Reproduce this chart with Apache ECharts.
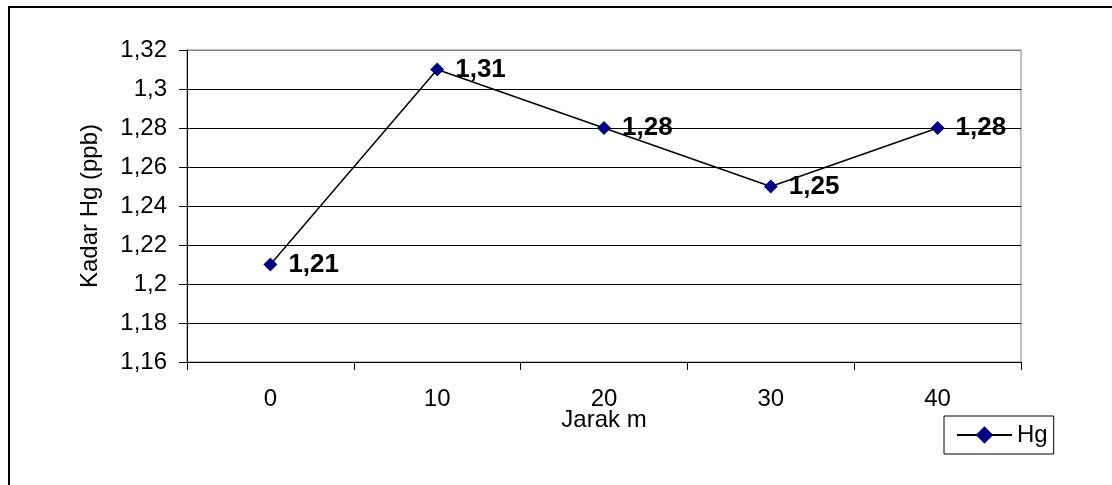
<!DOCTYPE html>
<html>
<head>
<meta charset="utf-8">
<script src="https://cdn.jsdelivr.net/npm/echarts@6/dist/echarts.min.js"></script>
<style>
html,body{margin:0;padding:0;background:#fff;}
#c{width:1112px;height:485px;}
</style>
</head>
<body>
<div id="c"></div>
<script>
const categories = ['0', '10', '20', '30', '40'];
const hgValues = [1.21, 1.31, 1.28, 1.25, 1.28];
const seriesName = 'Hg';
const yName = 'Kadar Hg (ppb)';
const xName = 'Jarak m';

const fmt = v => String(Math.round(v * 100) / 100).replace('.', ',');
const FONT = 'Liberation Sans, Arial, sans-serif';

const chart = echarts.init(document.getElementById('c'), null, {renderer: 'canvas'});
chart.setOption({
  backgroundColor: '#fff',
  animation: false,
  textStyle: {fontFamily: FONT},
  graphic: [{
    type: 'rect', silent: true, z: 100,
    shape: {x: 9, y: 7, width: 1200, height: 600},
    style: {fill: 'none', stroke: '#000', lineWidth: 2}
  }],
  grid: {
    left: 187, top: 50, width: 834, height: 312,
    containLabel: false,
    show: true, borderColor: '#808080', borderWidth: 1, backgroundColor: '#fff'
  },
  legend: {
    left: 944, top: 416,
    padding: [7, 6, 7, 12],
    borderColor: '#000', borderWidth: 1,
    itemWidth: 55, itemHeight: 22, itemGap: 5,
    textStyle: {fontSize: 24, color: '#000', fontFamily: FONT},
    data: [seriesName]
  },
  xAxis: {
    type: 'category',
    data: categories,
    boundaryGap: true,
    name: xName,
    nameLocation: 'middle',
    nameGap: 46,
    nameMoveOverlap: false,
    nameTextStyle: {fontSize: 24, color: '#000', fontFamily: FONT},
    axisLine: {lineStyle: {color: '#000', width: 1}},
    axisTick: {show: true, length: 8, lineStyle: {color: '#000'}},
    axisLabel: {fontSize: 24, color: '#000', margin: 25, fontFamily: FONT},
    splitLine: {show: false}
  },
  yAxis: {
    type: 'value',
    min: 1.16, max: 1.32, interval: 0.02,
    name: yName,
    nameLocation: 'middle',
    nameGap: 85,
    nameMoveOverlap: false,
    nameTextStyle: {fontSize: 24, color: '#000', fontFamily: FONT},
    axisLine: {show: true, lineStyle: {color: '#000', width: 1}},
    axisTick: {show: true, length: 8, lineStyle: {color: '#000'}},
    axisLabel: {fontSize: 24, color: '#000', margin: 20, formatter: fmt, fontFamily: FONT},
    splitLine: {show: true, lineStyle: {color: ['#000','#000','#000','#000','#000','#000','#000','#000','#808080'], width: 1}}
  },
  series: [{
    name: seriesName,
    type: 'line',
    data: hgValues,
    symbol: 'diamond',
    symbolSize: 14,
    itemStyle: {color: '#000080'},
    lineStyle: {color: '#000', width: 1.5},
    label: {
      show: true, position: 'right', distance: 11,
      fontSize: 26, fontWeight: 'bold', color: '#000', fontFamily: FONT,
      formatter: p => fmt(p.value)
    },
    z: 3
  }]
});
</script>
</body>
</html>
